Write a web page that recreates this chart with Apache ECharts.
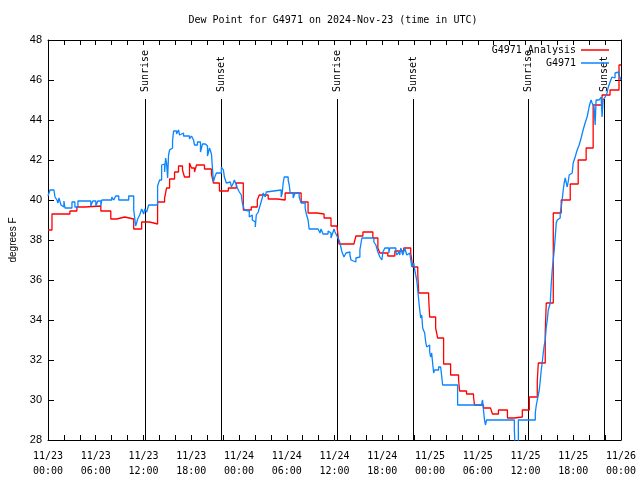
<!DOCTYPE html>
<html>
<head>
<meta charset="utf-8">
<script src="https://cdn.jsdelivr.net/npm/echarts@6/dist/echarts.min.js"></script>
<style>html,body{margin:0;padding:0;background:#fff}#c{width:640px;height:480px}</style>
</head>
<body>
<div id="c"></div>
<script>
// ---- data (time in hours since 2024-11-23 00:00 UTC, dew point in °F) ----
const titleText = 'Dew Point for G4971 on 2024-Nov-23 (time in UTC)';
const seriesNames = ['G4971 Analysis', 'G4971'];
const xTickLabels = ['11/23\n00:00','11/23\n06:00','11/23\n12:00','11/23\n18:00','11/24\n00:00','11/24\n06:00','11/24\n12:00','11/24\n18:00','11/25\n00:00','11/25\n06:00','11/25\n12:00','11/25\n18:00','11/26\n00:00'];

const analysisTimes = [0.00,0.50,2.75,3.63,4.63,6.64,7.89,8.64,9.64,10.77,11.77,12.77,13.77,14.65,14.90,15.28,15.90,16.40,16.90,17.15,17.78,18.03,18.41,18.66,19.66,20.54,20.79,21.54,22.66,23.67,24.54,25.54,26.30,26.55,27.67,28.80,29.80,31.81,32.68,33.81,34.69,35.56,36.31,36.56,38.44,38.69,39.57,40.82,41.45,41.70,42.70,43.58,44.70,45.58,45.83,46.46,46.58,47.83,47.96,48.71,48.96,49.71,50.59,51.59,51.72,52.59,53.47,53.59,54.72,55.60,55.85,56.60,57.73,58.60,59.60,60.48,61.48,61.61,62.48,62.61,63.49,64.49,65.62,66.62,67.62,68.50,69.62,70.62,71.75,72.00];
const analysisValues = [38.5,39.3,39.45,39.65,39.7,39.45,39.05,39.15,39.05,38.55,38.9,38.8,39.9,40.1,40.6,41.05,41.4,41.7,41.5,41.15,41.85,41.6,41.4,41.75,41.55,41.3,40.85,40.45,40.6,40.85,39.5,39.65,40.0,40.25,40.05,40.0,40.35,39.9,39.35,39.3,39.1,38.7,38.65,37.8,37.9,38.2,38.4,38.1,37.6,37.35,37.2,37.45,37.6,37.35,36.65,36.35,35.35,35.1,34.15,33.6,33.1,31.8,31.25,31.0,30.45,30.3,30.15,29.75,29.6,29.5,29.3,29.5,29.1,29.15,29.5,30.15,30.95,31.85,33.4,34.85,39.35,40.0,40.8,42.0,42.6,44.75,45.25,45.5,46.75,46.75];

const obsTimes = [0.00,0.25,0.75,0.88,1.13,1.25,1.38,1.63,1.88,2.00,2.13,2.50,3.01,3.38,3.76,5.38,5.63,6.01,6.26,6.64,6.76,8.01,8.26,8.51,8.89,10.14,10.77,11.02,11.14,11.27,11.52,11.77,12.02,12.15,12.40,12.65,13.77,14.02,14.28,14.53,14.65,14.78,14.90,15.03,15.15,15.28,15.53,15.65,15.78,16.15,16.40,16.53,16.78,17.03,17.78,18.03,18.28,18.41,18.78,19.16,19.41,19.78,20.04,20.29,20.54,20.66,20.79,20.91,21.16,21.79,22.04,22.16,22.41,22.66,22.92,23.04,23.29,23.42,23.67,23.79,24.04,24.29,24.42,24.67,24.92,25.29,25.54,25.67,25.92,26.05,26.17,26.42,26.55,26.67,26.92,27.05,27.30,27.42,27.67,29.30,29.43,29.55,29.68,30.18,30.31,30.43,30.80,31.05,31.56,31.81,32.31,32.43,32.68,32.81,33.93,34.18,34.31,34.56,35.19,35.31,35.56,35.69,35.94,36.06,36.31,36.56,36.69,36.94,37.19,37.44,37.69,37.94,38.07,38.32,38.69,38.94,39.19,39.44,40.95,41.20,41.45,41.70,41.95,42.08,42.33,42.83,42.95,43.71,43.83,44.08,44.20,44.33,44.58,44.83,45.08,45.21,45.46,45.58,45.71,45.96,46.08,46.33,46.46,46.58,46.71,46.83,46.96,47.08,47.21,47.33,47.46,47.58,47.83,47.96,48.08,48.21,48.33,48.46,48.58,49.08,49.34,49.46,49.59,51.47,54.47,54.60,54.72,54.85,54.97,55.10,58.60,58.73,58.98,59.10,61.23,61.36,61.48,61.73,61.86,61.98,62.11,62.23,62.36,62.48,62.61,62.74,62.86,63.11,63.24,63.36,63.49,63.61,63.74,63.86,63.99,64.11,64.36,64.49,64.61,64.74,64.86,64.99,65.11,65.24,65.36,65.49,65.62,65.74,65.87,65.99,66.24,66.49,66.74,66.99,67.24,67.49,67.74,67.87,67.99,68.12,68.24,68.37,68.62,68.75,68.87,69.25,69.50,69.62,69.75,70.00,70.25,70.37,70.62,70.87,71.00,71.25,71.50,71.75,71.88,72.00];
const obsValues = [40.2,40.5,40.5,40.15,40.0,39.85,40.1,39.75,39.65,39.95,39.6,39.6,39.9,39.65,39.95,39.7,39.95,39.7,39.95,39.7,40.0,40.15,40.0,40.2,40.0,40.2,39.5,38.7,38.6,39.05,39.25,39.55,39.3,39.55,39.4,39.75,40.7,41.0,41.75,41.8,41.4,42.1,41.85,41.1,42.25,42.5,42.6,42.95,43.45,43.3,43.5,43.25,43.35,43.2,43.05,43.2,43.0,42.75,42.9,42.4,42.8,42.7,42.2,42.6,42.3,41.6,40.9,41.1,41.35,41.65,41.5,41.15,40.85,40.9,40.85,40.65,40.85,41.0,40.75,40.6,40.4,40.25,39.85,39.5,39.45,39.15,39.25,39.0,38.9,38.65,39.25,39.4,39.6,39.75,40.1,40.35,40.15,40.4,40.5,40.15,40.35,40.85,41.15,41.0,40.75,40.35,40.1,40.35,40.15,39.85,39.6,39.35,39.0,38.55,38.45,38.35,38.55,38.3,38.45,38.35,38.1,38.25,38.55,38.4,38.2,38.0,37.85,37.4,37.15,37.35,37.4,37.25,37.0,36.9,37.1,37.15,37.5,38.1,37.9,37.75,37.4,37.15,37.0,37.4,37.6,37.35,37.6,37.4,37.25,37.4,37.25,37.6,37.25,37.6,37.25,37.35,37.25,37.0,36.65,36.85,36.5,36.0,35.5,35.0,34.5,34.1,34.25,33.6,33.65,33.35,32.9,32.65,32.75,32.4,32.15,32.35,31.85,31.35,31.5,31.65,31.75,31.65,30.75,29.75,29.85,30.0,29.5,29.0,28.75,29.0,28.5,27.3,27.3,29.0,29.35,29.75,30.0,30.5,31.0,31.5,31.9,32.35,32.75,33.0,33.65,34.0,34.5,34.85,35.85,36.5,37.0,37.5,38.15,38.85,39.0,39.1,39.35,39.65,40.0,40.5,40.85,41.1,41.0,40.65,40.9,41.25,41.15,41.35,41.4,41.85,42.15,42.5,42.75,43.1,43.5,43.85,44.15,44.4,44.65,44.85,45.0,44.85,44.65,43.75,45.0,45.1,45.15,44.15,45.0,45.15,45.35,45.6,45.9,46.15,46.1,46.35,46.4,46.25,46.15,46.0];

const sunTimes = [12.22, 21.79, 36.30, 45.83, 60.35, 69.88];
const sunLabels = ['Sunrise', 'Sunset', 'Sunrise', 'Sunset', 'Sunrise', 'Sunset'];

const xMin = 0, xMax = 72, xStep = 6;
const yMin = 28, yMax = 48, yStep = 2;
const sunLineTop = 45.05;   // upper end of the sun marker lines (deg F)
const sunLabelBase = 45.4;  // where the marker text starts (deg F)

// ---- chart ----
const mono = '"DejaVu Sans Mono", monospace';
const sans = '"Liberation Sans", Arial, sans-serif';
const colors = ['#ff0000', '#0a84ff'];
const zip = (a, b) => a.map((t, i) => [t, b[i]]);

const chart = echarts.init(document.getElementById('c'), null, { renderer: 'canvas' });

const xAxisBase = {
  type: 'value', min: xMin, max: xMax, interval: xStep,
  axisLine: { show: true, onZero: false, lineStyle: { color: '#000', width: 1 } },
  axisTick: { show: true, inside: true, length: 5, lineStyle: { color: '#000' } },
  minorTick: { show: true, splitNumber: 3, length: 5, lineStyle: { color: '#000' } },
  splitLine: { show: false }, minorSplitLine: { show: false }
};
const yAxisBase = {
  type: 'value', min: yMin, max: yMax, interval: yStep,
  axisLine: { show: true, onZero: false, lineStyle: { color: '#000', width: 1 } },
  axisTick: { show: true, inside: true, length: 6, lineStyle: { color: '#000' } },
  splitLine: { show: false }
};

chart.setOption({
  animation: false,
  backgroundColor: '#fff',
  color: colors,
  title: {
    text: titleText, left: 333, top: 15, textAlign: 'center', padding: 0,
    textStyle: { fontFamily: mono, fontSize: 10, fontWeight: 'normal', color: '#000' }
  },
  grid: { left: 46, right: 19, top: 40, bottom: 40, containLabel: false },
  legend: {
    orient: 'vertical', right: 31, top: 44, align: 'right', itemGap: 1, padding: 0,
    itemWidth: 28, itemHeight: 1.5, icon: 'rect',
    textStyle: { fontFamily: mono, fontSize: 10, color: '#000', lineHeight: 12 },
    data: seriesNames.slice()
  },
  xAxis: [
    Object.assign({}, xAxisBase, {
      position: 'bottom',
      axisLabel: {
        show: true, margin: 9, fontFamily: mono, fontSize: 10, color: '#000', lineHeight: 15,
        formatter: v => xTickLabels[Math.round((v - xMin) / xStep)] || ''
      }
    }),
    Object.assign({}, xAxisBase, { position: 'top', axisLabel: { show: false } })
  ],
  yAxis: [
    Object.assign({}, yAxisBase, {
      position: 'left',
      name: 'degrees F', nameLocation: 'middle', nameRotate: 90, nameGap: 30,
      nameTextStyle: { fontFamily: sans, fontSize: 10, color: '#000' },
      axisLabel: { show: true, margin: 6, fontFamily: sans, fontSize: 11, color: '#000' }
    }),
    Object.assign({}, yAxisBase, { position: 'right', axisLabel: { show: false } })
  ],
  series: [
    {
      type: 'custom', name: 'sun', silent: true, xAxisIndex: 0, yAxisIndex: 0, z: 1,
      data: sunTimes.map(t => [t]),
      renderItem: (params, api) => {
        const t = api.value(0);
        const p0 = api.coord([t, yMin]);
        const p1 = api.coord([t, sunLineTop]);
        const pt = api.coord([t, sunLabelBase]);
        const x = Math.round(p0[0]) + 0.5;
        return {
          type: 'group', children: [
            { type: 'line', shape: { x1: x, y1: p0[1], x2: x, y2: p1[1] }, style: { stroke: '#000', lineWidth: 1 } },
            { type: 'text', x: x, y: pt[1], rotation: Math.PI / 2,
              style: { text: sunLabels[params.dataIndex], font: '10px ' + mono, fill: '#000', align: 'left', verticalAlign: 'middle' } }
          ]
        };
      }
    },
    {
      type: 'line', name: seriesNames[0], data: zip(analysisTimes, analysisValues), step: 'end',
      showSymbol: false, symbol: 'none', z: 3,
      lineStyle: { color: colors[0], width: 1.3 }, itemStyle: { color: colors[0] }
    },
    {
      type: 'line', name: seriesNames[1], data: zip(obsTimes, obsValues), step: 'end',
      showSymbol: false, symbol: 'none', z: 4,
      lineStyle: { color: colors[1], width: 1.3 }, itemStyle: { color: colors[1] }
    }
  ]
});
</script>
</body>
</html>
